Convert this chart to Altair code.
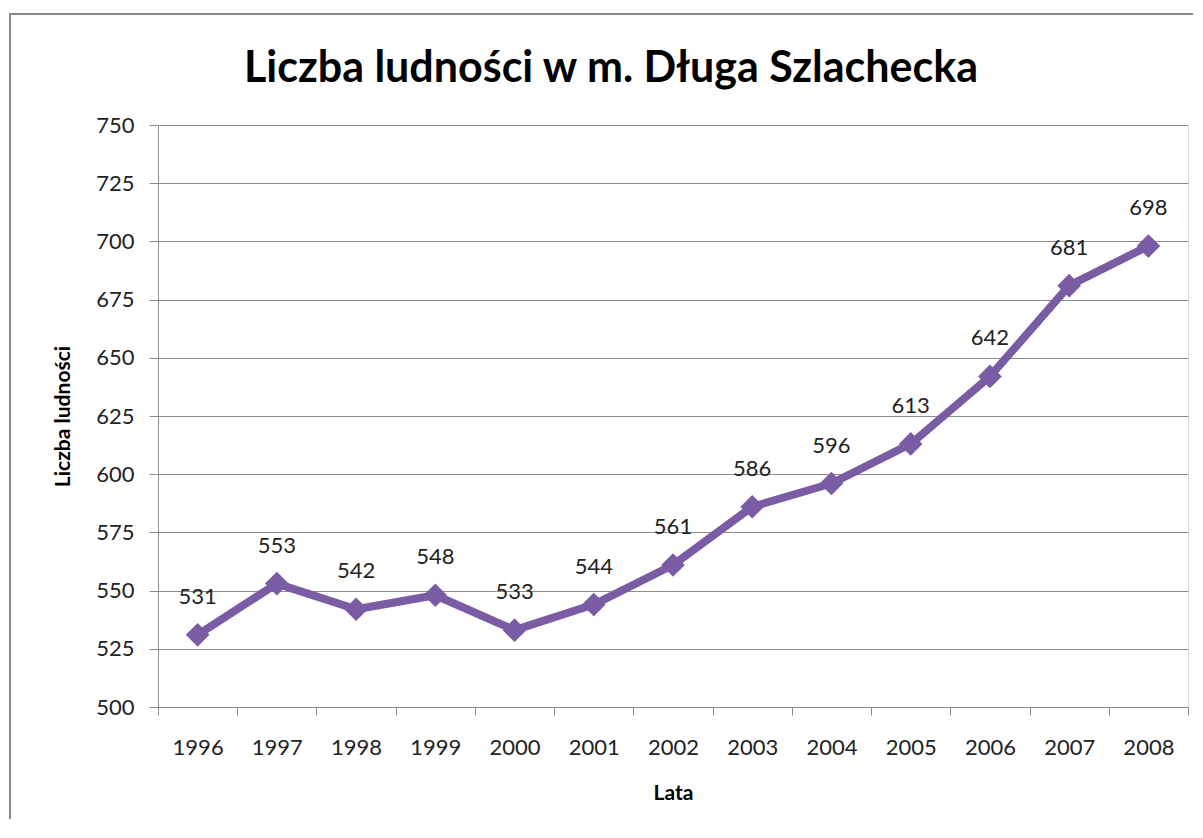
import altair as alt
import pandas as pd

years = ["1996", "1997", "1998", "1999", "2000", "2001", "2002",
         "2003", "2004", "2005", "2006", "2007", "2008"]
population = [531, 553, 542, 548, 533, 544, 561, 586, 596, 613, 642, 681, 698]
title_text = ["Liczba ludności w m. Długa Szlachecka"]

df = pd.DataFrame({"Lata": years, "Ludnosc": population})

FONT = "Lato"
PURPLE = "#7A5CA5"
GRID = "#8C8C8C"

x_enc = alt.X("Lata:O", sort=years, title="Lata",
              scale=alt.Scale(paddingInner=0, paddingOuter=0),
              axis=alt.Axis(labelAngle=0, tickBand="extent", tickSize=8,
                            labelPadding=22, titlePadding=24,
                            labelFontSize=22, titleFontSize=21,
                            titleFontWeight="bold", domainColor=GRID,
                            tickColor=GRID, labelColor="#222222",
                            titleColor="#000000", grid=False))
y_enc = alt.Y("Ludnosc:Q", title="Liczba ludności",
              scale=alt.Scale(domain=[500, 750], nice=False, zero=False),
              axis=alt.Axis(values=list(range(500, 751, 25)), tickSize=9,
                            labelPadding=15, titlePadding=22,
                            labelFontSize=22, titleFontSize=21,
                            titleFontWeight="bold", domainColor=GRID,
                            tickColor=GRID, gridColor=GRID, gridWidth=1,
                            labelColor="#222222", titleColor="#000000"))

base = alt.Chart(df).encode(x=x_enc, y=y_enc)

line = base.mark_line(color=PURPLE, strokeWidth=8, strokeJoin="round")
points = base.mark_point(shape="diamond", filled=True, size=560,
                         color=PURPLE, opacity=1)
labels = base.mark_text(dy=-38, fontSize=22, font=FONT,
                        color="#222222").encode(text="Ludnosc:Q")

one = pd.DataFrame({"a": [0]})
frame_left = alt.Chart(one).mark_rule(
    color="#8A8A8A", strokeWidth=2, clip=False
).encode(x=alt.value(-148), y=alt.value(-111), y2=alt.value(760))
frame_top = alt.Chart(one).mark_rule(
    color="#8A8A8A", strokeWidth=2, clip=False
).encode(x=alt.value(-149), x2=alt.value(1100), y=alt.value(-111))

title = alt.Chart(pd.DataFrame({"t": title_text})).mark_text(
    font=FONT, fontSize=43, fontWeight="bold", color="#000000",
    align="center", baseline="alphabetic", clip=False
).encode(text="t:N", x=alt.value(453), y=alt.value(-43))

chart = alt.layer(frame_left, frame_top, line, points, labels, title).properties(
    width=1030, height=582,
    padding={"left": 150, "top": 117, "right": 5, "bottom": 112},
    autosize=alt.AutoSizeParams(type="none"),
).configure_view(stroke=None).configure(
    font=FONT, background="white"
).configure_axis(labelFont=FONT, titleFont=FONT)

chart.save("out.html", embed_options={"renderer": "svg", "actions": False})
